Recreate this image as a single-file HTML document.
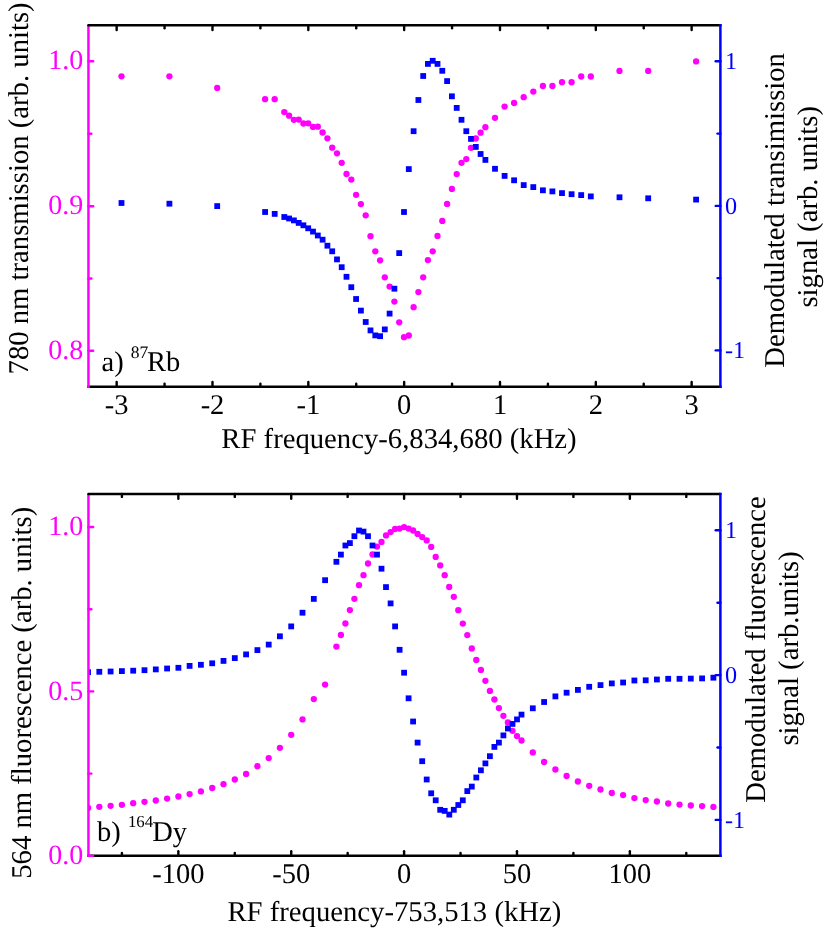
<!DOCTYPE html>
<html><head><meta charset="utf-8"><title>chart</title>
<style>html,body{margin:0;padding:0;background:#fff}body{width:830px;height:929px;overflow:hidden}</style></head>
<body>
<svg width="830" height="929" viewBox="0 0 830 929" style="display:block;will-change:transform;font-family:'Liberation Serif',serif;text-rendering:geometricPrecision" fill="#000">
<rect x="0" y="0" width="830" height="929" fill="#fff"/>
<defs><clipPath id="ct"><rect x="88.45" y="25.3" width="631.9499999999999" height="361.4"/></clipPath><clipPath id="cb"><rect x="88.45" y="494.0" width="631.9499999999999" height="361.85"/></clipPath></defs>
<g fill="#ff00ff" clip-path="url(#ct)"><circle cx="121.5" cy="76.3" r="3.15"/>
<circle cx="169.4" cy="76.3" r="3.15"/>
<circle cx="217.2" cy="87.9" r="3.15"/>
<circle cx="265.1" cy="99.2" r="3.15"/>
<circle cx="274.7" cy="99.2" r="3.15"/>
<circle cx="284.3" cy="112.1" r="3.15"/>
<circle cx="289.1" cy="115.7" r="3.15"/>
<circle cx="293.9" cy="119.8" r="3.15"/>
<circle cx="298.7" cy="119.6" r="3.15"/>
<circle cx="303.4" cy="123.5" r="3.15"/>
<circle cx="308.2" cy="123.3" r="3.15"/>
<circle cx="313.0" cy="126.9" r="3.15"/>
<circle cx="317.8" cy="126.7" r="3.15"/>
<circle cx="322.6" cy="132.5" r="3.15"/>
<circle cx="327.4" cy="138.3" r="3.15"/>
<circle cx="332.2" cy="147.7" r="3.15"/>
<circle cx="337.0" cy="153.3" r="3.15"/>
<circle cx="341.7" cy="162.8" r="3.15"/>
<circle cx="346.5" cy="174.0" r="3.15"/>
<circle cx="351.3" cy="179.6" r="3.15"/>
<circle cx="356.1" cy="194.8" r="3.15"/>
<circle cx="360.9" cy="204.1" r="3.15"/>
<circle cx="365.7" cy="215.3" r="3.15"/>
<circle cx="370.5" cy="236.2" r="3.15"/>
<circle cx="375.3" cy="251.3" r="3.15"/>
<circle cx="380.1" cy="260.3" r="3.15"/>
<circle cx="384.8" cy="277.3" r="3.15"/>
<circle cx="389.6" cy="286.6" r="3.15"/>
<circle cx="394.4" cy="301.6" r="3.15"/>
<circle cx="399.2" cy="322.3" r="3.15"/>
<circle cx="404.0" cy="337.2" r="3.15"/>
<circle cx="408.8" cy="335.5" r="3.15"/>
<circle cx="413.6" cy="307.2" r="3.15"/>
<circle cx="418.4" cy="292.1" r="3.15"/>
<circle cx="423.2" cy="277.3" r="3.15"/>
<circle cx="427.9" cy="260.1" r="3.15"/>
<circle cx="432.7" cy="251.3" r="3.15"/>
<circle cx="437.5" cy="235.9" r="3.15"/>
<circle cx="442.3" cy="220.9" r="3.15"/>
<circle cx="447.1" cy="203.9" r="3.15"/>
<circle cx="451.9" cy="188.9" r="3.15"/>
<circle cx="456.7" cy="174.1" r="3.15"/>
<circle cx="461.5" cy="162.8" r="3.15"/>
<circle cx="466.3" cy="159.1" r="3.15"/>
<circle cx="471.0" cy="147.8" r="3.15"/>
<circle cx="475.8" cy="138.5" r="3.15"/>
<circle cx="480.6" cy="132.7" r="3.15"/>
<circle cx="485.4" cy="127.2" r="3.15"/>
<circle cx="495.0" cy="117.8" r="3.15"/>
<circle cx="504.6" cy="106.6" r="3.15"/>
<circle cx="514.1" cy="103.0" r="3.15"/>
<circle cx="523.7" cy="97.2" r="3.15"/>
<circle cx="533.3" cy="91.6" r="3.15"/>
<circle cx="542.9" cy="86.0" r="3.15"/>
<circle cx="552.4" cy="86.0" r="3.15"/>
<circle cx="562.0" cy="82.2" r="3.15"/>
<circle cx="571.6" cy="82.2" r="3.15"/>
<circle cx="581.2" cy="76.5" r="3.15"/>
<circle cx="590.8" cy="76.5" r="3.15"/>
<circle cx="619.5" cy="70.9" r="3.15"/>
<circle cx="648.2" cy="70.9" r="3.15"/>
<circle cx="696.1" cy="61.4" r="3.15"/></g>
<g fill="#0000ff" clip-path="url(#ct)"><rect x="118.6" y="200.1" width="5.8" height="5.8"/>
<rect x="166.5" y="200.8" width="5.8" height="5.8"/>
<rect x="214.3" y="203.2" width="5.8" height="5.8"/>
<rect x="262.2" y="209.1" width="5.8" height="5.8"/>
<rect x="271.8" y="211.0" width="5.8" height="5.8"/>
<rect x="281.4" y="214.1" width="5.8" height="5.8"/>
<rect x="286.2" y="215.6" width="5.8" height="5.8"/>
<rect x="291.0" y="217.5" width="5.8" height="5.8"/>
<rect x="295.8" y="220.0" width="5.8" height="5.8"/>
<rect x="300.5" y="222.4" width="5.8" height="5.8"/>
<rect x="305.3" y="225.4" width="5.8" height="5.8"/>
<rect x="310.1" y="228.7" width="5.8" height="5.8"/>
<rect x="314.9" y="232.6" width="5.8" height="5.8"/>
<rect x="319.7" y="236.8" width="5.8" height="5.8"/>
<rect x="324.5" y="242.8" width="5.8" height="5.8"/>
<rect x="329.3" y="248.4" width="5.8" height="5.8"/>
<rect x="334.1" y="256.5" width="5.8" height="5.8"/>
<rect x="338.8" y="264.3" width="5.8" height="5.8"/>
<rect x="343.6" y="273.9" width="5.8" height="5.8"/>
<rect x="348.4" y="284.3" width="5.8" height="5.8"/>
<rect x="353.2" y="296.1" width="5.8" height="5.8"/>
<rect x="358.0" y="307.7" width="5.8" height="5.8"/>
<rect x="362.8" y="319.1" width="5.8" height="5.8"/>
<rect x="367.6" y="327.5" width="5.8" height="5.8"/>
<rect x="372.4" y="332.5" width="5.8" height="5.8"/>
<rect x="377.2" y="333.3" width="5.8" height="5.8"/>
<rect x="381.9" y="326.5" width="5.8" height="5.8"/>
<rect x="386.7" y="310.7" width="5.8" height="5.8"/>
<rect x="391.5" y="285.8" width="5.8" height="5.8"/>
<rect x="396.3" y="250.2" width="5.8" height="5.8"/>
<rect x="401.1" y="209.1" width="5.8" height="5.8"/>
<rect x="405.9" y="166.2" width="5.8" height="5.8"/>
<rect x="410.7" y="128.3" width="5.8" height="5.8"/>
<rect x="415.5" y="97.1" width="5.8" height="5.8"/>
<rect x="420.3" y="73.1" width="5.8" height="5.8"/>
<rect x="425.0" y="61.0" width="5.8" height="5.8"/>
<rect x="429.8" y="57.9" width="5.8" height="5.8"/>
<rect x="434.6" y="61.0" width="5.8" height="5.8"/>
<rect x="439.4" y="67.9" width="5.8" height="5.8"/>
<rect x="444.2" y="78.2" width="5.8" height="5.8"/>
<rect x="449.0" y="93.4" width="5.8" height="5.8"/>
<rect x="453.8" y="105.0" width="5.8" height="5.8"/>
<rect x="458.6" y="116.9" width="5.8" height="5.8"/>
<rect x="463.4" y="128.3" width="5.8" height="5.8"/>
<rect x="468.1" y="136.0" width="5.8" height="5.8"/>
<rect x="472.9" y="144.0" width="5.8" height="5.8"/>
<rect x="477.7" y="151.1" width="5.8" height="5.8"/>
<rect x="482.5" y="157.0" width="5.8" height="5.8"/>
<rect x="492.1" y="165.9" width="5.8" height="5.8"/>
<rect x="501.7" y="173.0" width="5.8" height="5.8"/>
<rect x="511.2" y="177.4" width="5.8" height="5.8"/>
<rect x="520.8" y="182.2" width="5.8" height="5.8"/>
<rect x="530.4" y="184.2" width="5.8" height="5.8"/>
<rect x="540.0" y="187.4" width="5.8" height="5.8"/>
<rect x="549.5" y="188.5" width="5.8" height="5.8"/>
<rect x="559.1" y="190.2" width="5.8" height="5.8"/>
<rect x="568.7" y="191.3" width="5.8" height="5.8"/>
<rect x="578.3" y="192.2" width="5.8" height="5.8"/>
<rect x="587.9" y="193.5" width="5.8" height="5.8"/>
<rect x="616.6" y="194.4" width="5.8" height="5.8"/>
<rect x="645.3" y="195.4" width="5.8" height="5.8"/>
<rect x="693.2" y="196.7" width="5.8" height="5.8"/></g>
<line x1="116.66" y1="25.30" x2="116.66" y2="30.00" stroke="#000" stroke-width="2.4" stroke-linecap="round"/>
<line x1="116.66" y1="386.70" x2="116.66" y2="382.00" stroke="#000" stroke-width="2.4" stroke-linecap="round"/>
<text x="116.7" y="413.9" font-size="28.5" text-anchor="middle">-3</text>
<line x1="212.49" y1="25.30" x2="212.49" y2="30.00" stroke="#000" stroke-width="2.4" stroke-linecap="round"/>
<line x1="212.49" y1="386.70" x2="212.49" y2="382.00" stroke="#000" stroke-width="2.4" stroke-linecap="round"/>
<text x="212.5" y="413.9" font-size="28.5" text-anchor="middle">-2</text>
<line x1="308.32" y1="25.30" x2="308.32" y2="30.00" stroke="#000" stroke-width="2.4" stroke-linecap="round"/>
<line x1="308.32" y1="386.70" x2="308.32" y2="382.00" stroke="#000" stroke-width="2.4" stroke-linecap="round"/>
<text x="308.3" y="413.9" font-size="28.5" text-anchor="middle">-1</text>
<line x1="404.15" y1="25.30" x2="404.15" y2="30.00" stroke="#000" stroke-width="2.4" stroke-linecap="round"/>
<line x1="404.15" y1="386.70" x2="404.15" y2="382.00" stroke="#000" stroke-width="2.4" stroke-linecap="round"/>
<text x="404.1" y="413.9" font-size="28.5" text-anchor="middle">0</text>
<line x1="499.98" y1="25.30" x2="499.98" y2="30.00" stroke="#000" stroke-width="2.4" stroke-linecap="round"/>
<line x1="499.98" y1="386.70" x2="499.98" y2="382.00" stroke="#000" stroke-width="2.4" stroke-linecap="round"/>
<text x="500.0" y="413.9" font-size="28.5" text-anchor="middle">1</text>
<line x1="595.81" y1="25.30" x2="595.81" y2="30.00" stroke="#000" stroke-width="2.4" stroke-linecap="round"/>
<line x1="595.81" y1="386.70" x2="595.81" y2="382.00" stroke="#000" stroke-width="2.4" stroke-linecap="round"/>
<text x="595.8" y="413.9" font-size="28.5" text-anchor="middle">2</text>
<line x1="691.64" y1="25.30" x2="691.64" y2="30.00" stroke="#000" stroke-width="2.4" stroke-linecap="round"/>
<line x1="691.64" y1="386.70" x2="691.64" y2="382.00" stroke="#000" stroke-width="2.4" stroke-linecap="round"/>
<text x="691.6" y="413.9" font-size="28.5" text-anchor="middle">3</text>
<line x1="164.57" y1="25.30" x2="164.57" y2="28.20" stroke="#000" stroke-width="2.4" stroke-linecap="round"/>
<line x1="164.57" y1="386.70" x2="164.57" y2="383.80" stroke="#000" stroke-width="2.4" stroke-linecap="round"/>
<line x1="260.40" y1="25.30" x2="260.40" y2="28.20" stroke="#000" stroke-width="2.4" stroke-linecap="round"/>
<line x1="260.40" y1="386.70" x2="260.40" y2="383.80" stroke="#000" stroke-width="2.4" stroke-linecap="round"/>
<line x1="356.23" y1="25.30" x2="356.23" y2="28.20" stroke="#000" stroke-width="2.4" stroke-linecap="round"/>
<line x1="356.23" y1="386.70" x2="356.23" y2="383.80" stroke="#000" stroke-width="2.4" stroke-linecap="round"/>
<line x1="452.06" y1="25.30" x2="452.06" y2="28.20" stroke="#000" stroke-width="2.4" stroke-linecap="round"/>
<line x1="452.06" y1="386.70" x2="452.06" y2="383.80" stroke="#000" stroke-width="2.4" stroke-linecap="round"/>
<line x1="547.89" y1="25.30" x2="547.89" y2="28.20" stroke="#000" stroke-width="2.4" stroke-linecap="round"/>
<line x1="547.89" y1="386.70" x2="547.89" y2="383.80" stroke="#000" stroke-width="2.4" stroke-linecap="round"/>
<line x1="643.72" y1="25.30" x2="643.72" y2="28.20" stroke="#000" stroke-width="2.4" stroke-linecap="round"/>
<line x1="643.72" y1="386.70" x2="643.72" y2="383.80" stroke="#000" stroke-width="2.4" stroke-linecap="round"/>
<line x1="87.20" y1="386.70" x2="721.65" y2="386.70" stroke="#000" stroke-width="2.5" stroke-linecap="butt"/>
<line x1="88.45" y1="25.30" x2="88.45" y2="387.95" stroke="#ff00ff" stroke-width="2.5" stroke-linecap="butt"/>
<line x1="88.45" y1="61.30" x2="93.15" y2="61.30" stroke="#ff00ff" stroke-width="2.4" stroke-linecap="round"/>
<text x="83.2" y="69.4" font-size="28.0" text-anchor="end" fill="#ff00ff">1.0</text>
<line x1="88.45" y1="133.80" x2="91.35" y2="133.80" stroke="#ff00ff" stroke-width="2.4" stroke-linecap="round"/>
<line x1="88.45" y1="206.20" x2="93.15" y2="206.20" stroke="#ff00ff" stroke-width="2.4" stroke-linecap="round"/>
<text x="83.2" y="214.3" font-size="28.0" text-anchor="end" fill="#ff00ff">0.9</text>
<line x1="88.45" y1="278.50" x2="91.35" y2="278.50" stroke="#ff00ff" stroke-width="2.4" stroke-linecap="round"/>
<line x1="88.45" y1="350.70" x2="93.15" y2="350.70" stroke="#ff00ff" stroke-width="2.4" stroke-linecap="round"/>
<text x="83.2" y="358.8" font-size="28.0" text-anchor="end" fill="#ff00ff">0.8</text>
<line x1="88.45" y1="25.30" x2="720.40" y2="25.30" stroke="#000" stroke-width="2.5" stroke-linecap="round"/>
<line x1="720.40" y1="24.05" x2="720.40" y2="387.95" stroke="#0000ff" stroke-width="2.5" stroke-linecap="butt"/>
<line x1="720.40" y1="61.30" x2="715.70" y2="61.30" stroke="#0000ff" stroke-width="2.4" stroke-linecap="round"/>
<text x="725.0" y="69.0" font-size="24.2" fill="#0000ff">1</text>
<line x1="720.40" y1="133.60" x2="717.50" y2="133.60" stroke="#0000ff" stroke-width="2.4" stroke-linecap="round"/>
<line x1="720.40" y1="205.90" x2="715.70" y2="205.90" stroke="#0000ff" stroke-width="2.4" stroke-linecap="round"/>
<text x="725.0" y="213.6" font-size="24.2" fill="#0000ff">0</text>
<line x1="720.40" y1="278.10" x2="717.50" y2="278.10" stroke="#0000ff" stroke-width="2.4" stroke-linecap="round"/>
<line x1="720.40" y1="350.40" x2="715.70" y2="350.40" stroke="#0000ff" stroke-width="2.4" stroke-linecap="round"/>
<text x="725.0" y="358.1" font-size="24.2" fill="#0000ff">-1</text>
<text x="399.0" y="448.1" font-size="28.7" text-anchor="middle">RF frequency-6,834,680 (kHz)</text>
<text transform="translate(28.3,188.4) rotate(-90)" font-size="28.7" text-anchor="middle">780 nm transmission (arb. units)</text>
<text transform="translate(783.8,210.4) rotate(-90)" font-size="28.7" text-anchor="middle">Demodulated transimission</text>
<text transform="translate(816.9,206.8) rotate(-90)" font-size="28.7" text-anchor="middle">signal (arb. units)</text>
<text x="101.5" y="370.7" font-size="28.5">a) <tspan font-size="17.5" dy="-12.5">87</tspan><tspan dy="12.5" dx="-1.2">Rb</tspan></text>
<g fill="#ff00ff" clip-path="url(#cb)"><circle cx="88.1" cy="808.0" r="3.15"/>
<circle cx="99.3" cy="806.8" r="3.15"/>
<circle cx="110.6" cy="805.8" r="3.15"/>
<circle cx="121.9" cy="804.8" r="3.15"/>
<circle cx="133.2" cy="803.2" r="3.15"/>
<circle cx="144.5" cy="801.8" r="3.15"/>
<circle cx="155.8" cy="800.5" r="3.15"/>
<circle cx="167.1" cy="798.6" r="3.15"/>
<circle cx="178.4" cy="796.5" r="3.15"/>
<circle cx="189.6" cy="794.1" r="3.15"/>
<circle cx="200.9" cy="791.4" r="3.15"/>
<circle cx="212.2" cy="788.0" r="3.15"/>
<circle cx="223.5" cy="784.2" r="3.15"/>
<circle cx="234.8" cy="779.5" r="3.15"/>
<circle cx="246.1" cy="773.9" r="3.15"/>
<circle cx="257.4" cy="766.2" r="3.15"/>
<circle cx="268.7" cy="758.1" r="3.15"/>
<circle cx="279.9" cy="747.8" r="3.15"/>
<circle cx="291.2" cy="734.8" r="3.15"/>
<circle cx="302.5" cy="719.4" r="3.15"/>
<circle cx="313.8" cy="699.1" r="3.15"/>
<circle cx="325.1" cy="684.6" r="3.15"/>
<circle cx="336.4" cy="646.6" r="3.15"/>
<circle cx="340.9" cy="635.0" r="3.15"/>
<circle cx="345.4" cy="623.5" r="3.15"/>
<circle cx="349.9" cy="610.1" r="3.15"/>
<circle cx="354.4" cy="598.8" r="3.15"/>
<circle cx="359.0" cy="585.2" r="3.15"/>
<circle cx="363.5" cy="575.2" r="3.15"/>
<circle cx="368.0" cy="563.5" r="3.15"/>
<circle cx="372.5" cy="554.5" r="3.15"/>
<circle cx="377.0" cy="546.6" r="3.15"/>
<circle cx="381.5" cy="541.9" r="3.15"/>
<circle cx="386.0" cy="535.4" r="3.15"/>
<circle cx="390.6" cy="532.1" r="3.15"/>
<circle cx="395.1" cy="529.0" r="3.15"/>
<circle cx="399.6" cy="528.6" r="3.15"/>
<circle cx="404.1" cy="527.1" r="3.15"/>
<circle cx="408.6" cy="528.6" r="3.15"/>
<circle cx="413.1" cy="530.5" r="3.15"/>
<circle cx="417.6" cy="533.9" r="3.15"/>
<circle cx="422.2" cy="537.1" r="3.15"/>
<circle cx="426.7" cy="540.4" r="3.15"/>
<circle cx="431.2" cy="546.9" r="3.15"/>
<circle cx="435.7" cy="556.9" r="3.15"/>
<circle cx="440.2" cy="565.4" r="3.15"/>
<circle cx="444.7" cy="575.2" r="3.15"/>
<circle cx="449.2" cy="587.0" r="3.15"/>
<circle cx="453.8" cy="596.8" r="3.15"/>
<circle cx="458.3" cy="610.2" r="3.15"/>
<circle cx="462.8" cy="623.6" r="3.15"/>
<circle cx="467.3" cy="635.1" r="3.15"/>
<circle cx="471.8" cy="648.4" r="3.15"/>
<circle cx="476.3" cy="660.0" r="3.15"/>
<circle cx="480.9" cy="669.9" r="3.15"/>
<circle cx="485.4" cy="680.8" r="3.15"/>
<circle cx="489.9" cy="690.9" r="3.15"/>
<circle cx="494.4" cy="699.5" r="3.15"/>
<circle cx="498.9" cy="708.1" r="3.15"/>
<circle cx="503.4" cy="715.8" r="3.15"/>
<circle cx="507.9" cy="722.5" r="3.15"/>
<circle cx="512.5" cy="730.8" r="3.15"/>
<circle cx="517.0" cy="736.1" r="3.15"/>
<circle cx="521.5" cy="740.5" r="3.15"/>
<circle cx="532.8" cy="752.4" r="3.15"/>
<circle cx="544.1" cy="762.0" r="3.15"/>
<circle cx="555.4" cy="769.5" r="3.15"/>
<circle cx="566.6" cy="776.0" r="3.15"/>
<circle cx="577.9" cy="781.5" r="3.15"/>
<circle cx="589.2" cy="785.8" r="3.15"/>
<circle cx="600.5" cy="789.5" r="3.15"/>
<circle cx="611.8" cy="793.0" r="3.15"/>
<circle cx="623.1" cy="795.1" r="3.15"/>
<circle cx="634.4" cy="798.1" r="3.15"/>
<circle cx="645.7" cy="800.1" r="3.15"/>
<circle cx="656.9" cy="801.5" r="3.15"/>
<circle cx="668.2" cy="803.5" r="3.15"/>
<circle cx="679.5" cy="804.6" r="3.15"/>
<circle cx="690.8" cy="805.5" r="3.15"/>
<circle cx="702.1" cy="806.1" r="3.15"/>
<circle cx="713.4" cy="806.9" r="3.15"/></g>
<g fill="#0000ff" clip-path="url(#cb)"><rect x="85.2" y="669.3" width="5.8" height="5.8"/>
<rect x="96.4" y="668.9" width="5.8" height="5.8"/>
<rect x="107.7" y="668.6" width="5.8" height="5.8"/>
<rect x="119.0" y="668.2" width="5.8" height="5.8"/>
<rect x="130.3" y="667.8" width="5.8" height="5.8"/>
<rect x="141.6" y="667.3" width="5.8" height="5.8"/>
<rect x="152.9" y="666.5" width="5.8" height="5.8"/>
<rect x="164.2" y="665.6" width="5.8" height="5.8"/>
<rect x="175.5" y="664.9" width="5.8" height="5.8"/>
<rect x="186.7" y="663.0" width="5.8" height="5.8"/>
<rect x="198.0" y="661.9" width="5.8" height="5.8"/>
<rect x="209.3" y="660.4" width="5.8" height="5.8"/>
<rect x="220.6" y="658.0" width="5.8" height="5.8"/>
<rect x="231.9" y="655.2" width="5.8" height="5.8"/>
<rect x="243.2" y="651.5" width="5.8" height="5.8"/>
<rect x="254.5" y="647.2" width="5.8" height="5.8"/>
<rect x="265.8" y="641.7" width="5.8" height="5.8"/>
<rect x="277.0" y="633.4" width="5.8" height="5.8"/>
<rect x="288.3" y="623.5" width="5.8" height="5.8"/>
<rect x="299.6" y="609.8" width="5.8" height="5.8"/>
<rect x="310.9" y="596.0" width="5.8" height="5.8"/>
<rect x="322.2" y="577.3" width="5.8" height="5.8"/>
<rect x="333.5" y="558.9" width="5.8" height="5.8"/>
<rect x="338.0" y="551.7" width="5.8" height="5.8"/>
<rect x="342.5" y="542.6" width="5.8" height="5.8"/>
<rect x="347.0" y="540.2" width="5.8" height="5.8"/>
<rect x="351.5" y="533.3" width="5.8" height="5.8"/>
<rect x="356.1" y="527.6" width="5.8" height="5.8"/>
<rect x="360.6" y="528.7" width="5.8" height="5.8"/>
<rect x="365.1" y="533.3" width="5.8" height="5.8"/>
<rect x="369.6" y="542.6" width="5.8" height="5.8"/>
<rect x="374.1" y="551.7" width="5.8" height="5.8"/>
<rect x="378.6" y="565.8" width="5.8" height="5.8"/>
<rect x="383.1" y="584.2" width="5.8" height="5.8"/>
<rect x="387.7" y="600.5" width="5.8" height="5.8"/>
<rect x="392.2" y="623.5" width="5.8" height="5.8"/>
<rect x="396.7" y="646.9" width="5.8" height="5.8"/>
<rect x="401.2" y="669.8" width="5.8" height="5.8"/>
<rect x="405.7" y="695.4" width="5.8" height="5.8"/>
<rect x="410.2" y="718.6" width="5.8" height="5.8"/>
<rect x="414.7" y="739.7" width="5.8" height="5.8"/>
<rect x="419.3" y="758.3" width="5.8" height="5.8"/>
<rect x="423.8" y="776.6" width="5.8" height="5.8"/>
<rect x="428.3" y="790.4" width="5.8" height="5.8"/>
<rect x="432.8" y="797.4" width="5.8" height="5.8"/>
<rect x="437.3" y="806.9" width="5.8" height="5.8"/>
<rect x="441.8" y="808.0" width="5.8" height="5.8"/>
<rect x="446.4" y="811.7" width="5.8" height="5.8"/>
<rect x="450.9" y="806.9" width="5.8" height="5.8"/>
<rect x="455.4" y="802.1" width="5.8" height="5.8"/>
<rect x="459.9" y="797.4" width="5.8" height="5.8"/>
<rect x="464.4" y="788.2" width="5.8" height="5.8"/>
<rect x="468.9" y="783.7" width="5.8" height="5.8"/>
<rect x="473.4" y="774.6" width="5.8" height="5.8"/>
<rect x="478.0" y="767.4" width="5.8" height="5.8"/>
<rect x="482.5" y="760.5" width="5.8" height="5.8"/>
<rect x="487.0" y="753.3" width="5.8" height="5.8"/>
<rect x="491.5" y="744.0" width="5.8" height="5.8"/>
<rect x="496.0" y="739.7" width="5.8" height="5.8"/>
<rect x="500.5" y="732.5" width="5.8" height="5.8"/>
<rect x="505.0" y="725.6" width="5.8" height="5.8"/>
<rect x="509.6" y="721.0" width="5.8" height="5.8"/>
<rect x="514.1" y="716.5" width="5.8" height="5.8"/>
<rect x="518.6" y="711.7" width="5.8" height="5.8"/>
<rect x="529.9" y="705.4" width="5.8" height="5.8"/>
<rect x="541.2" y="699.1" width="5.8" height="5.8"/>
<rect x="552.5" y="693.5" width="5.8" height="5.8"/>
<rect x="563.7" y="689.8" width="5.8" height="5.8"/>
<rect x="575.0" y="687.0" width="5.8" height="5.8"/>
<rect x="586.3" y="683.9" width="5.8" height="5.8"/>
<rect x="597.6" y="682.2" width="5.8" height="5.8"/>
<rect x="608.9" y="680.5" width="5.8" height="5.8"/>
<rect x="620.2" y="679.6" width="5.8" height="5.8"/>
<rect x="631.5" y="677.6" width="5.8" height="5.8"/>
<rect x="642.8" y="677.4" width="5.8" height="5.8"/>
<rect x="654.0" y="676.6" width="5.8" height="5.8"/>
<rect x="665.3" y="675.9" width="5.8" height="5.8"/>
<rect x="676.6" y="675.9" width="5.8" height="5.8"/>
<rect x="687.9" y="675.7" width="5.8" height="5.8"/>
<rect x="699.2" y="675.5" width="5.8" height="5.8"/>
<rect x="710.5" y="674.8" width="5.8" height="5.8"/></g>
<line x1="178.35" y1="494.00" x2="178.35" y2="498.70" stroke="#000" stroke-width="2.4" stroke-linecap="round"/>
<line x1="178.35" y1="855.85" x2="178.35" y2="851.15" stroke="#000" stroke-width="2.4" stroke-linecap="round"/>
<text x="178.4" y="882.6" font-size="28.5" text-anchor="middle">-100</text>
<line x1="291.23" y1="494.00" x2="291.23" y2="498.70" stroke="#000" stroke-width="2.4" stroke-linecap="round"/>
<line x1="291.23" y1="855.85" x2="291.23" y2="851.15" stroke="#000" stroke-width="2.4" stroke-linecap="round"/>
<text x="291.2" y="882.6" font-size="28.5" text-anchor="middle">-50</text>
<line x1="404.10" y1="494.00" x2="404.10" y2="498.70" stroke="#000" stroke-width="2.4" stroke-linecap="round"/>
<line x1="404.10" y1="855.85" x2="404.10" y2="851.15" stroke="#000" stroke-width="2.4" stroke-linecap="round"/>
<text x="404.1" y="882.6" font-size="28.5" text-anchor="middle">0</text>
<line x1="516.98" y1="494.00" x2="516.98" y2="498.70" stroke="#000" stroke-width="2.4" stroke-linecap="round"/>
<line x1="516.98" y1="855.85" x2="516.98" y2="851.15" stroke="#000" stroke-width="2.4" stroke-linecap="round"/>
<text x="517.0" y="882.6" font-size="28.5" text-anchor="middle">50</text>
<line x1="629.85" y1="494.00" x2="629.85" y2="498.70" stroke="#000" stroke-width="2.4" stroke-linecap="round"/>
<line x1="629.85" y1="855.85" x2="629.85" y2="851.15" stroke="#000" stroke-width="2.4" stroke-linecap="round"/>
<text x="629.9" y="882.6" font-size="28.5" text-anchor="middle">100</text>
<line x1="121.91" y1="494.00" x2="121.91" y2="496.90" stroke="#000" stroke-width="2.4" stroke-linecap="round"/>
<line x1="121.91" y1="855.85" x2="121.91" y2="852.95" stroke="#000" stroke-width="2.4" stroke-linecap="round"/>
<line x1="234.79" y1="494.00" x2="234.79" y2="496.90" stroke="#000" stroke-width="2.4" stroke-linecap="round"/>
<line x1="234.79" y1="855.85" x2="234.79" y2="852.95" stroke="#000" stroke-width="2.4" stroke-linecap="round"/>
<line x1="347.66" y1="494.00" x2="347.66" y2="496.90" stroke="#000" stroke-width="2.4" stroke-linecap="round"/>
<line x1="347.66" y1="855.85" x2="347.66" y2="852.95" stroke="#000" stroke-width="2.4" stroke-linecap="round"/>
<line x1="460.54" y1="494.00" x2="460.54" y2="496.90" stroke="#000" stroke-width="2.4" stroke-linecap="round"/>
<line x1="460.54" y1="855.85" x2="460.54" y2="852.95" stroke="#000" stroke-width="2.4" stroke-linecap="round"/>
<line x1="573.41" y1="494.00" x2="573.41" y2="496.90" stroke="#000" stroke-width="2.4" stroke-linecap="round"/>
<line x1="573.41" y1="855.85" x2="573.41" y2="852.95" stroke="#000" stroke-width="2.4" stroke-linecap="round"/>
<line x1="686.29" y1="494.00" x2="686.29" y2="496.90" stroke="#000" stroke-width="2.4" stroke-linecap="round"/>
<line x1="686.29" y1="855.85" x2="686.29" y2="852.95" stroke="#000" stroke-width="2.4" stroke-linecap="round"/>
<line x1="87.20" y1="855.85" x2="721.65" y2="855.85" stroke="#000" stroke-width="2.5" stroke-linecap="butt"/>
<line x1="88.45" y1="494.00" x2="88.45" y2="857.10" stroke="#ff00ff" stroke-width="2.5" stroke-linecap="butt"/>
<line x1="88.45" y1="527.00" x2="93.15" y2="527.00" stroke="#ff00ff" stroke-width="2.4" stroke-linecap="round"/>
<text x="83.2" y="535.3" font-size="28.0" text-anchor="end" fill="#ff00ff">1.0</text>
<line x1="88.45" y1="609.20" x2="91.35" y2="609.20" stroke="#ff00ff" stroke-width="2.4" stroke-linecap="round"/>
<line x1="88.45" y1="691.40" x2="93.15" y2="691.40" stroke="#ff00ff" stroke-width="2.4" stroke-linecap="round"/>
<text x="83.2" y="699.7" font-size="28.0" text-anchor="end" fill="#ff00ff">0.5</text>
<line x1="88.45" y1="773.60" x2="91.35" y2="773.60" stroke="#ff00ff" stroke-width="2.4" stroke-linecap="round"/>
<line x1="88.45" y1="855.85" x2="93.15" y2="855.85" stroke="#ff00ff" stroke-width="2.4" stroke-linecap="round"/>
<text x="83.2" y="864.1" font-size="28.0" text-anchor="end" fill="#ff00ff">0.0</text>
<line x1="88.45" y1="494.00" x2="720.40" y2="494.00" stroke="#000" stroke-width="2.5" stroke-linecap="round"/>
<line x1="720.40" y1="492.75" x2="720.40" y2="857.10" stroke="#0000ff" stroke-width="2.5" stroke-linecap="butt"/>
<line x1="720.40" y1="530.20" x2="715.70" y2="530.20" stroke="#0000ff" stroke-width="2.4" stroke-linecap="round"/>
<text x="725.0" y="537.9" font-size="24.2" fill="#0000ff">1</text>
<line x1="720.40" y1="602.70" x2="717.50" y2="602.70" stroke="#0000ff" stroke-width="2.4" stroke-linecap="round"/>
<line x1="720.40" y1="675.10" x2="715.70" y2="675.10" stroke="#0000ff" stroke-width="2.4" stroke-linecap="round"/>
<text x="725.0" y="682.8" font-size="24.2" fill="#0000ff">0</text>
<line x1="720.40" y1="747.50" x2="717.50" y2="747.50" stroke="#0000ff" stroke-width="2.4" stroke-linecap="round"/>
<line x1="720.40" y1="819.90" x2="715.70" y2="819.90" stroke="#0000ff" stroke-width="2.4" stroke-linecap="round"/>
<text x="725.0" y="827.6" font-size="24.2" fill="#0000ff">-1</text>
<text x="394.4" y="920.5" font-size="28.7" text-anchor="middle">RF frequency-753,513 (kHz)</text>
<text transform="translate(31.2,692.8) rotate(-90)" font-size="28.7" text-anchor="middle">564 nm fluorescence (arb. units)</text>
<text transform="translate(765.0,649.5) rotate(-90)" font-size="28.7" text-anchor="middle">Demodulated fluorescence</text>
<text transform="translate(797.7,648.4) rotate(-90)" font-size="28.7" text-anchor="middle">signal (arb.units)</text>
<text x="97" y="841.2" font-size="28.5">b) <tspan font-size="16.8" dy="-13.8">164</tspan><tspan dy="13.8" dx="-0.8">Dy</tspan></text>
</svg>
</body></html>
